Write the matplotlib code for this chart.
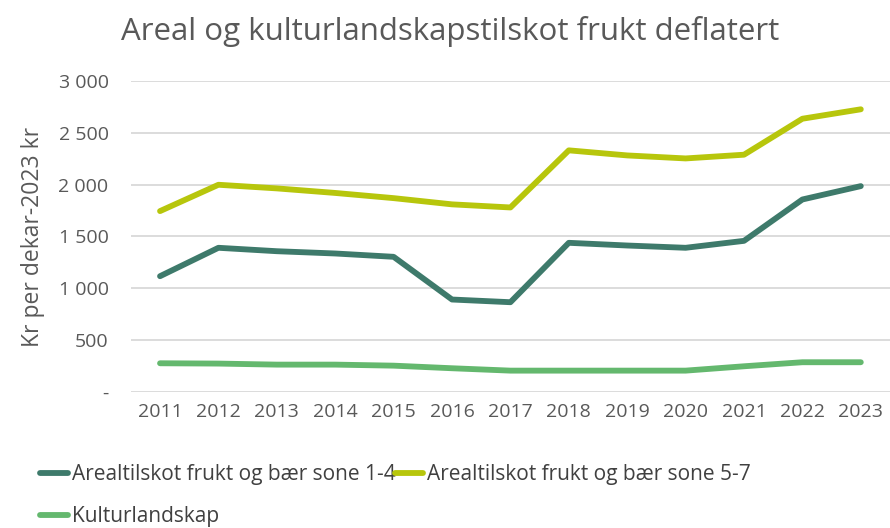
import matplotlib.pyplot as plt
from matplotlib.ticker import FuncFormatter

years = [str(y) for y in range(2011, 2024)]
sone_1_4 = [1117, 1391, 1358, 1336, 1304, 892, 866, 1439, 1413, 1391, 1458, 1857, 1986]
sone_5_7 = [1745, 1999, 1964, 1920, 1870, 1810, 1780, 2331, 2282, 2253, 2289, 2636, 2727]
kulturlandskap = [277, 274, 264, 264, 254, 229, 206, 206, 206, 206, 248, 287, 287]

labels = ["Arealtilskot frukt og bær sone 1-4",
          "Arealtilskot frukt og bær sone 5-7",
          "Kulturlandskap"]
colors = ["#3E7A6B", "#B7C60C", "#64B86E"]

plt.rcParams['font.family'] = ['Open Sans', 'DejaVu Sans']
txt = "#595959"

fig = plt.figure(figsize=(8.9, 5.28), dpi=100)
ax = fig.add_axes([0.147, 0.2576, 0.853, 0.589])

x = range(len(years))
lines = []
for vals, lab, col in zip([sone_1_4, sone_5_7, kulturlandskap], labels, colors):
    ln, = ax.plot(x, vals, color=col, lw=4.2, solid_capstyle='round', label=lab)
    lines.append(ln)

ax.set_xlim(-0.5, len(years) - 0.5)
ax.set_ylim(0, 3000)
ax.set_yticks(range(0, 3001, 500))
ax.yaxis.set_major_formatter(FuncFormatter(
    lambda v, p: "-" if v == 0 else f"{int(v):,}".replace(",", " ")))
ax.set_xticks(list(x))
ax.set_xticklabels(years)
ax.grid(axis='y', color="#D9D9D9", lw=1.3)
ax.set_axisbelow(True)
for s in ax.spines.values():
    s.set_visible(False)
ax.tick_params(length=0, labelsize=14, colors=txt, pad=8)
ax.tick_params(axis='y', pad=16)

ax.set_ylabel("Kr per dekar-2023 kr", fontsize=16.5, color=txt, labelpad=10)
fig.text(0.506, 0.94, "Areal og kulturlandskapstilskot frukt deflatert",
         ha='center', va='center', fontsize=22.5, color=txt)

# row-wise order: 1-4, 5-7 on first row, Kulturlandskap on second
leg = fig.legend(handles=[lines[0], lines[2], lines[1]], loc='upper left',
                 bbox_to_anchor=(0.036, 0.137),
                 ncol=2, frameon=False, fontsize=15, handlelength=1.35,
                 handletextpad=0.15, columnspacing=0.0, labelspacing=1.0,
                 borderaxespad=0, labelcolor="#404040")

fig.savefig("out.png", dpi=100)
